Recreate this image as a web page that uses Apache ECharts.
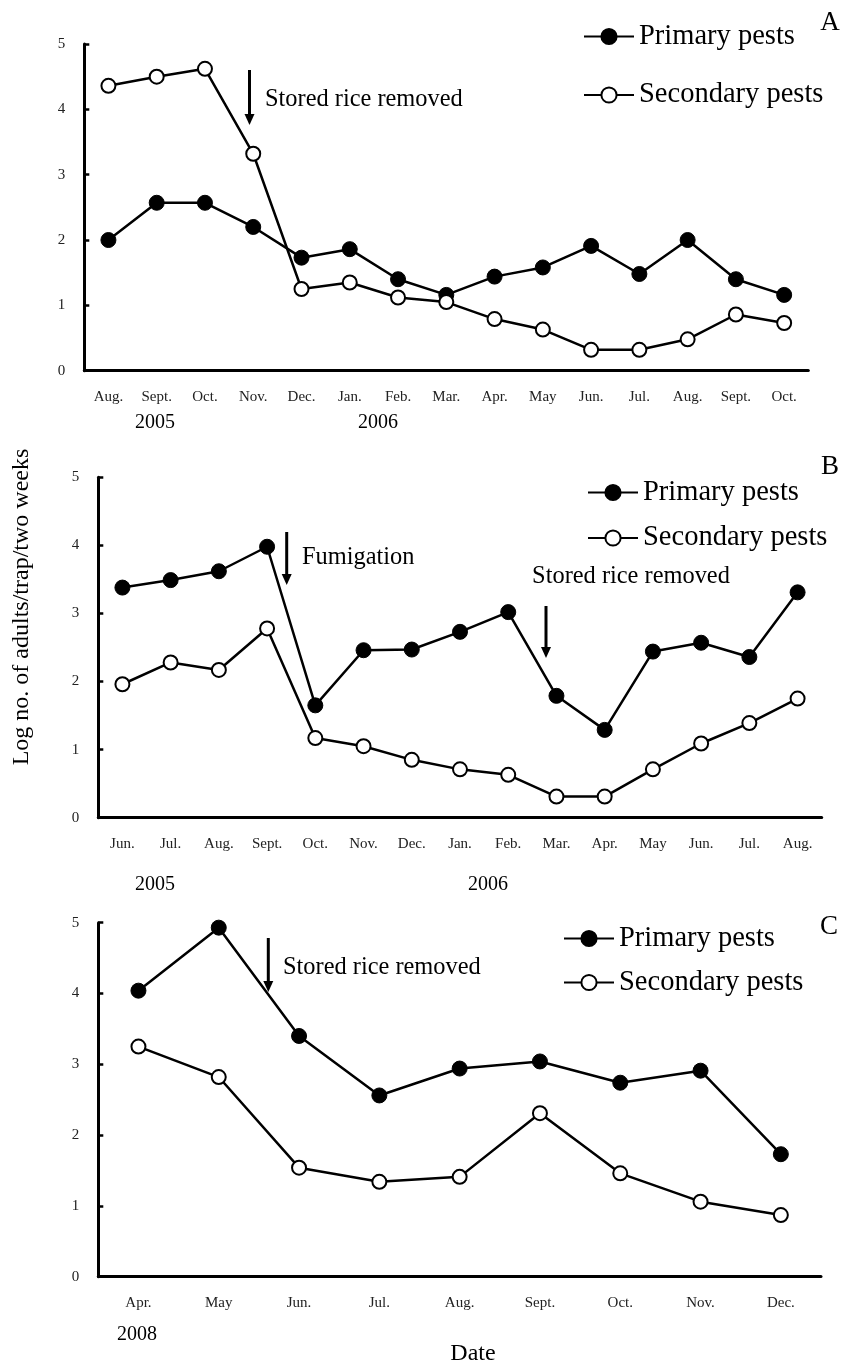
<!doctype html>
<html lang="en">
<head>
    <meta charset="utf-8">
    <title>Pest trap counts</title>
    <style>
        html, body { margin: 0; padding: 0; background: #fff; }
        #chart { width: 843px; height: 1367px; }
    </style>
</head>
<body>
    <div id="chart"></div>
    <script src="https://cdn.jsdelivr.net/npm/echarts@6/dist/echarts.min.js"></script>
    <script>
        // panel A: Aug. 2005 - Oct. 2006
        var monthsA = ['Aug.', 'Sept.', 'Oct.', 'Nov.', 'Dec.', 'Jan.', 'Feb.', 'Mar.', 'Apr.', 'May', 'Jun.', 'Jul.', 'Aug.', 'Sept.', 'Oct.'];
        var primaryA = [2.0, 2.57, 2.57, 2.2, 1.73, 1.86, 1.4, 1.16, 1.44, 1.58, 1.91, 1.48, 2.0, 1.4, 1.16];
        var secondaryA = [4.36, 4.5, 4.62, 3.32, 1.25, 1.35, 1.12, 1.05, 0.79, 0.63, 0.32, 0.32, 0.48, 0.86, 0.73];

        // panel B: Jun. 2005 - Aug. 2006
        var monthsB = ['Jun.', 'Jul.', 'Aug.', 'Sept.', 'Oct.', 'Nov.', 'Dec.', 'Jan.', 'Feb.', 'Mar.', 'Apr.', 'May', 'Jun.', 'Jul.', 'Aug.'];
        var primaryB = [3.38, 3.49, 3.62, 3.98, 1.65, 2.46, 2.47, 2.73, 3.02, 1.79, 1.29, 2.44, 2.57, 2.36, 3.31];
        var secondaryB = [1.96, 2.28, 2.17, 2.78, 1.17, 1.05, 0.85, 0.71, 0.63, 0.31, 0.31, 0.71, 1.09, 1.39, 1.75];

        // panel C: Apr. - Dec. 2008
        var monthsC = ['Apr.', 'May', 'Jun.', 'Jul.', 'Aug.', 'Sept.', 'Oct.', 'Nov.', 'Dec.'];
        var primaryC = [4.04, 4.93, 3.4, 2.56, 2.94, 3.04, 2.74, 2.91, 1.73];
        var secondaryC = [3.25, 2.82, 1.54, 1.34, 1.41, 2.31, 1.46, 1.06, 0.87];

        var yTicks = [0, 1, 2, 3, 4, 5];

        var FONT = '"Liberation Serif", "DejaVu Serif", serif';

        var chart = echarts.init(document.getElementById('chart'), null, { renderer: 'canvas' });

        function xAxisFor(idx, cats) {
            return {
                type: 'category',
                gridIndex: idx,
                data: cats,
                boundaryGap: true,
                axisLine: { lineStyle: { color: '#000', width: 3 } },
                axisTick: { inside: true, length: 6, lineStyle: { color: '#000', width: 2.5 } },
                axisLabel: { color: '#222', fontFamily: FONT, fontSize: 15, margin: 19, interval: 0 }
            };
        }

        function yAxisFor(idx) {
            return {
                type: 'value',
                gridIndex: idx,
                min: yTicks[0],
                max: yTicks[yTicks.length - 1],
                interval: 1,
                splitLine: { show: false },
                axisLine: { show: true, lineStyle: { color: '#000', width: 3 } },
                axisTick: { show: true, inside: true, length: 5, lineStyle: { color: '#000', width: 2.5 } },
                axisLabel: { color: '#222', fontFamily: FONT, fontSize: 15, margin: 19 }
            };
        }

        function seriesFor(idx, name, values, filled) {
            return {
                name: name,
                type: 'line',
                xAxisIndex: idx,
                yAxisIndex: idx,
                data: values,
                symbol: 'circle',
                symbolSize: filled ? 15 : 14,
                showAllSymbol: true,
                animation: false,
                lineStyle: { color: '#000', width: 2.5 },
                itemStyle: filled
                    ? { color: '#000', borderColor: '#000', borderWidth: 1 }
                    : { color: '#fff', borderColor: '#000', borderWidth: 2 },
                z: filled ? 3 : 4
            };
        }

        function legendFor(left, top, gap) {
            return {
                orient: 'vertical',
                left: left,
                top: top,
                padding: 0,
                itemWidth: 50,
                itemHeight: 19,
                itemGap: gap,
                selectedMode: false,
                data: ['Primary pests', 'Secondary pests'],
                textStyle: { color: '#000', fontFamily: FONT, fontSize: 28.5 }
            };
        }

        function txt(x, y, s, size, extra) {
            var o = {
                type: 'text',
                x: x,
                y: y,
                style: {
                    text: s,
                    fill: '#000',
                    font: size + 'px ' + FONT,
                    align: 'left',
                    verticalAlign: 'middle'
                }
            };
            if (extra) {
                for (var k in extra) o.style[k] = extra[k];
            }
            return o;
        }

        function arrow(x, y1, y2) {
            return {
                type: 'group',
                children: [
                    { type: 'line', shape: { x1: x, y1: y1, x2: x, y2: y2 - 8 }, style: { stroke: '#000', lineWidth: 3 } },
                    { type: 'polygon', shape: { points: [[x - 5, y2 - 11], [x + 5, y2 - 11], [x, y2]] }, style: { fill: '#000' } }
                ]
            };
        }

        var option = {
            backgroundColor: '#fff',
            animation: false,
            grid: [
                { left: 84.3, top: 44, width: 724, height: 326.7 },
                { left: 98.3, top: 477.3, width: 723.4, height: 340.4 },
                { left: 98.3, top: 922.7, width: 722.7, height: 354 }
            ],
            xAxis: [xAxisFor(0, monthsA), xAxisFor(1, monthsB), xAxisFor(2, monthsC)],
            yAxis: [yAxisFor(0), yAxisFor(1), yAxisFor(2)],
            legend: [
                legendFor(583, 22, 29.5),
                legendFor(587, 478, 16.5),
                legendFor(563, 924, 15)
            ],
            series: [
                seriesFor(0, 'Primary pests', primaryA, true),
                seriesFor(0, 'Secondary pests', secondaryA, false),
                seriesFor(1, 'Primary pests', primaryB, true),
                seriesFor(1, 'Secondary pests', secondaryB, false),
                seriesFor(2, 'Primary pests', primaryC, true),
                seriesFor(2, 'Secondary pests', secondaryC, false)
            ],
            graphic: [
                // panel letters
                txt(830, 23, 'A', 27, { align: 'center' }),
                txt(830, 467, 'B', 27, { align: 'center' }),
                txt(829, 927, 'C', 27, { align: 'center' }),
                // annotations
                arrow(249.5, 70, 125),
                txt(265, 100, 'Stored rice removed', 24.4),
                arrow(286.7, 532, 585),
                txt(302, 558, 'Fumigation', 24.4),
                arrow(546, 606, 658),
                txt(631, 577, 'Stored rice removed', 24.4, { align: 'center' }),
                arrow(268.3, 938, 992),
                txt(283, 968, 'Stored rice removed', 24.4),
                // years
                txt(155, 423, '2005', 20, { align: 'center' }),
                txt(378, 423, '2006', 20, { align: 'center' }),
                txt(155, 885, '2005', 20, { align: 'center' }),
                txt(488, 885, '2006', 20, { align: 'center' }),
                txt(137, 1335, '2008', 20, { align: 'center' }),
                // axis titles
                txt(473, 1354, 'Date', 24, { align: 'center' }),
                {
                    type: 'text',
                    x: 22,
                    y: 607,
                    rotation: Math.PI / 2,
                    style: {
                        text: 'Log no. of adults/trap/two weeks',
                        fill: '#000',
                        font: '24px ' + FONT,
                        align: 'center',
                        verticalAlign: 'middle'
                    }
                }
            ]
        };

        chart.setOption(option);
    </script>
</body>
</html>
